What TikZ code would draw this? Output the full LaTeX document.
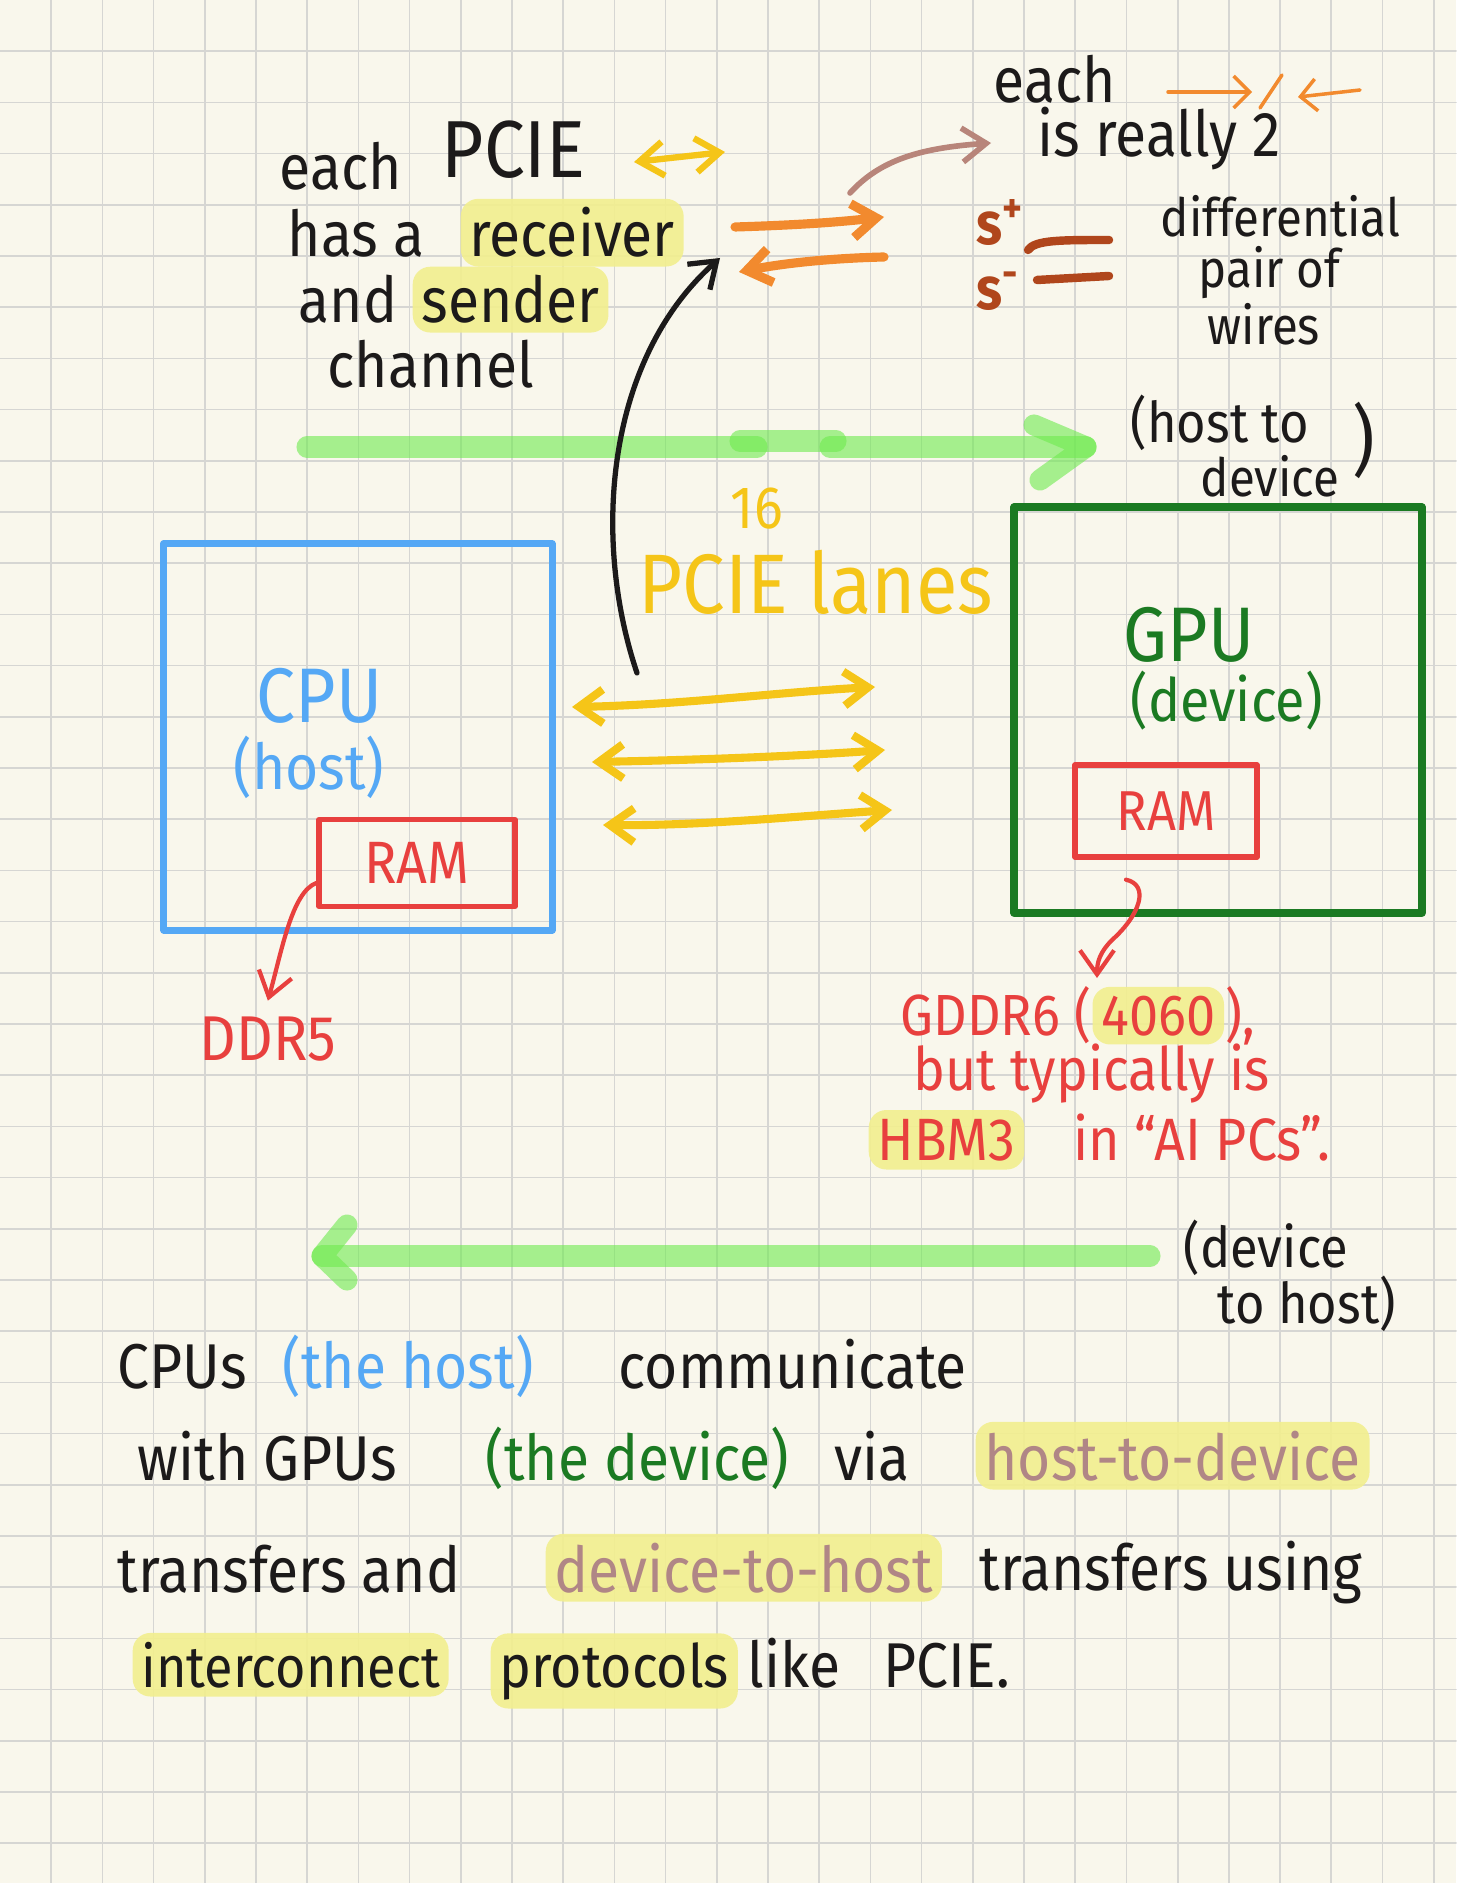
\documentclass[tikz,border=0pt]{standalone}
\usepackage{fontspec}
\setmainfont{Fira Sans}[FakeStretch=0.9]
\usetikzlibrary{arrows.meta}
\definecolor{paper}{HTML}{F9F7EC}
\definecolor{gridgray}{HTML}{D6D6D3}
\definecolor{ink}{HTML}{1C1A1A}
\definecolor{cpublue}{HTML}{55A8F5}
\definecolor{gpugreen}{HTML}{1B7A22}
\definecolor{ramred}{HTML}{E8403E}
\definecolor{lanegold}{HTML}{F5C518}
\definecolor{wireorange}{HTML}{F28A2E}
\definecolor{wirerust}{HTML}{B0461C}
\definecolor{taupe}{HTML}{B8857A}
\definecolor{mauve}{HTML}{B08686}
\definecolor{hilite}{HTML}{F2EF8E}
\definecolor{wavegreen}{HTML}{6EEB4E}

\begin{document}
\begin{tikzpicture}[x=0.01cm,y=-0.01cm,>={Straight Barb[length=2.4mm,width=3.4mm]},line cap=round,line join=round,
  note/.style={anchor=base west,inner sep=0pt,text=ink,font=\fontsize{18}{21}\selectfont},
  marked/.style={note,fill=hilite,fill opacity=.9,text opacity=1,inner sep=2.5pt,rounded corners=5pt},
  chip/.style={draw,inner sep=0pt},
  lanearrow/.style={draw=lanegold,line width=2.3pt,<->},
  greenwave/.style={draw=wavegreen,opacity=.6,line width=6pt},
  gridline/.style={gridgray,line width=.5pt}]
\useasboundingbox (0,0) rectangle (1456,1883);
\fill[paper] (0,0) rectangle (1456,1883);
\foreach \i in {1,...,28} \draw[gridline] (\i*51.2,0) -- (\i*51.2,1883);
\foreach \j in {1,...,36} \draw[gridline] (0,\j*51.2) -- (1456,\j*51.2);

% lanes note, top left
\node[note] (eachA) at (279,190) {each};
\node[note,font=\fontsize{23}{26}\selectfont] (pcieA) at (441,178) {PCIE};
\draw[lanearrow,line width=1.8pt] (634,162) -- (725,152);
\node[note] (hasA) at (287,257) {has a};
\node[marked] (recv) at (460,257) {receiver};
\node[note] (andA) at (298,323) {and};
\node[marked] (send) at (412,323) {sender};
\node[note] (chan) at (327,388) {channel};

% wire pair, top right
\node[note] (eachB) at (993,103) {each};
\draw[wireorange,line width=1pt,-{Straight Barb[length=1.6mm]}] (1168,92) -- (1252,92);
\draw[wireorange,line width=1pt] (1282,75) -- (1260,108);
\draw[wireorange,line width=1pt,-{Straight Barb[length=1.6mm]}] (1360,90) -- (1298,97);
\node[note] (really) at (1037,157) {is really 2};
\draw[taupe,line width=1.6pt,->] (850,193) .. controls (880,160) and (920,148) .. (991,143);
\draw[wireorange,line width=2.6pt,->] (735,227) .. controls (800,225) and (840,222) .. (884,217);
\draw[wireorange,line width=2.6pt,<-] (739,272) .. controls (790,262) and (840,258) .. (884,257);
\node[note,text=wirerust,font=\bfseries\fontsize{17}{20}\selectfont] (splus) at (976,245) {s\textsuperscript{+}};
\node[note,text=wirerust,font=\bfseries\fontsize{17}{20}\selectfont] (sminus) at (976,310) {s\textsuperscript{-}};
\draw[wirerust,line width=2.4pt] (1028,250) .. controls (1035,240) and (1060,240) .. (1109,240);
\draw[wirerust,line width=2.4pt] (1037,280) -- (1109,276);
\node[note,font=\fontsize{15}{18}\selectfont] (diff) at (1160,237) {differential};
\node[note,font=\fontsize{15}{18}\selectfont] (pairof) at (1198,288) {pair of};
\node[note,font=\fontsize{15}{18}\selectfont] (wires) at (1207,345) {wires};

% host to device
\draw[greenwave] (307,447) -- (757,447);
\draw[greenwave] (830,447) -- (1086,447);
\draw[greenwave] (740,441) -- (836,441);
\draw[greenwave] (1034,425) -- (1086,447) -- (1040,480);
\node[note,font=\fontsize{16}{19}\selectfont] (htdA) at (1130,443) {(host to};
\node[note,font=\fontsize{15}{18}\selectfont] (htdB) at (1200,497) {device};
\node[note,font=\fontsize{22}{24}\selectfont] (htdC) at (1352,468) {)};

% the lanes
\node[note,text=lanegold,font=\fontsize{17}{20}\selectfont] (sixteen) at (730,529) {16};
\node[note,text=lanegold,font=\fontsize{24}{27}\selectfont] (lanes) at (638,614) {PCIE lanes};
\draw[ink,line width=1.5pt,->] (637,673) .. controls (592,540) and (605,360) .. (720,258);
\draw[lanearrow] (572,707) .. controls (680,705) and (780,692) .. (875,687);
\draw[lanearrow] (592,762) .. controls (700,760) and (800,756) .. (885,750);
\draw[lanearrow] (603,825) .. controls (700,826) and (800,816) .. (892,810);

% CPU
\node[chip,draw=cpublue,line width=2pt,minimum width=3.88cm,minimum height=3.86cm] (cpu) at (358,737) {};
\node[note,text=cpublue,font=\fontsize{22}{25}\selectfont] (cpuname) at (256,723) {CPU};
\node[note,text=cpublue] (cpurole) at (233,790) {(host)};
\node[chip,draw=ramred,line width=1.5pt,minimum width=1.96cm,minimum height=.87cm,text=ramred,font=\fontsize{17}{20}\selectfont] (ramA) at (417,863) {RAM};
\node[note,text=ramred] (ddr) at (199,1060) {DDR5};
\draw[ramred,line width=1.2pt,->] ([yshift=-2mm]ramA.west) .. controls (292,892) and (282,950) .. ([yshift=1.5mm]ddr.north);

% GPU
\node[chip,draw=gpugreen,line width=2.3pt,minimum width=4.07cm,minimum height=4.05cm] (gpu) at (1218,710) {};
\node[note,text=gpugreen,font=\fontsize{22}{25}\selectfont] (gpuname) at (1123,662) {GPU};
\node[note,text=gpugreen,font=\fontsize{17}{20}\selectfont] (gpurole) at (1130,722) {(device)};
\node[chip,draw=ramred,line width=1.5pt,minimum width=1.82cm,minimum height=.92cm,text=ramred,font=\fontsize{16}{19}\selectfont] (ramB) at (1166,811) {RAM};
\coordinate (gtip) at (1097,978);
\draw[ramred,line width=1.2pt,->] ([xshift=-4mm,yshift=-2mm]ramB.south) .. controls (1150,885) and (1140,915) .. (1112,940) .. controls (1100,952) and (1097,962) .. (gtip);
\node[note,text=ramred,font=\fontsize{16.5}{19}\selectfont] (gddr) at (900,1035) {GDDR6 (};
\node[marked,text=ramred,font=\fontsize{16.5}{19}\selectfont] (g4060) at (gddr.base east) {4060};
\node[note,text=ramred,font=\fontsize{16.5}{19}\selectfont] (gclose) at (g4060.base east) {),};
\node[note,text=ramred,font=\fontsize{17}{20}\selectfont] (gbut) at (913,1090) {but typically is};
\node[marked,text=ramred,font=\fontsize{17}{20}\selectfont] (hbm) at (868,1160) {HBM3};
\node[note,text=ramred,font=\fontsize{17}{20}\selectfont] (gai) at (1073,1160) {in “AI PCs”.};

% device to host
\draw[greenwave] (1150,1256) -- (322,1256);
\draw[greenwave] (347,1225) -- (322,1256) -- (347,1280);
\node[note,font=\fontsize{16}{19}\selectfont] (dthA) at (1183,1267) {(device};
\node[note,font=\fontsize{16}{19}\selectfont] (dthB) at (1217,1323) {to host)};

% summary
\node[note] (pA1) at (117,1388) {CPUs};
\node[note,text=cpublue] (pA2) at (282,1388) {(the host)};
\node[note] (pA3) at (618,1388) {communicate};
\node[note] (pB1) at (137,1480) {with GPUs};
\node[note,text=gpugreen] (pB2) at (485,1480) {(the device)};
\node[note] (pB3) at (834,1480) {via};
\node[marked,text=mauve] (pB4) at (975,1480) {host-to-device};
\node[note] (pC1) at (117,1592) {transfers and};
\node[marked,text=mauve] (pC2) at (545,1592) {device-to-host};
\node[note] (pC3) at (979,1590) {transfers using};
\node[marked,font=\fontsize{16.5}{19}\selectfont] (pD1) at (132,1687) {interconnect};
\node[marked,font=\fontsize{17}{20}\selectfont] (pD2) at (490,1687) {protocols};
\node[note] (pD3) at (747,1687) {like};
\node[note] (pD4) at (883,1687) {PCIE.};
\end{tikzpicture}
\end{document}
